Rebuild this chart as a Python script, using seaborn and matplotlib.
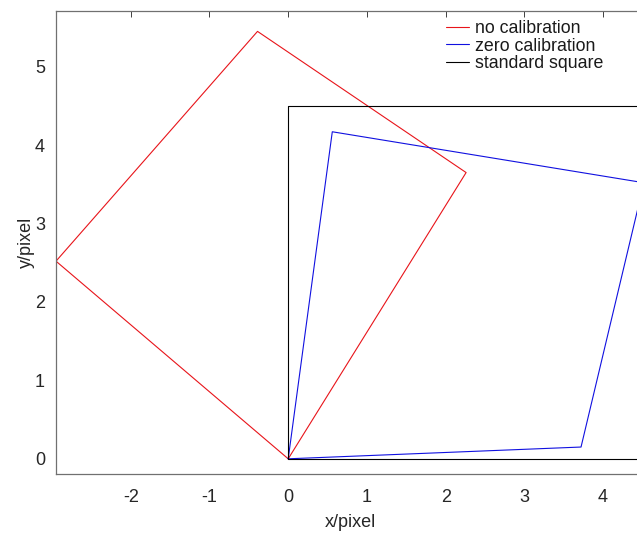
import matplotlib
matplotlib.use("Agg")
import matplotlib.pyplot as plt
import seaborn as sns
import pandas as pd

# Polygon vertices (closed)
no_cal_x = [0.0, -2.95, -0.39, 2.26, 0.0]
no_cal_y = [0.0, 2.52, 5.45, 3.65, 0.0]
zero_cal_x = [0.0, 3.72, 4.52, 0.56, 0.0]
zero_cal_y = [0.0, 0.15, 3.52, 4.17, 0.0]
square_x = [0.0, 4.5, 4.5, 0.0, 0.0]
square_y = [0.0, 0.0, 4.5, 4.5, 0.0]
series_names = ["no calibration", "zero calibration", "standard square"]
series_colors = ["#e8141a", "#1010e0", "#000000"]
x_ticks = [-2, -1, 0, 1, 2, 3, 4]
y_ticks = [0, 1, 2, 3, 4, 5]

sns.set_theme(style="white")
plt.rcParams["font.family"] = ["Liberation Sans", "DejaVu Sans"]
plt.rcParams["axes.unicode_minus"] = False

frames = []
for name, xs, ys in zip(series_names,
                        [no_cal_x, zero_cal_x, square_x],
                        [no_cal_y, zero_cal_y, square_y]):
    frames.append(pd.DataFrame({"x": xs, "y": ys, "series": name,
                                "order": range(len(xs))}))
df = pd.concat(frames, ignore_index=True)

fig = plt.figure(figsize=(6.37, 5.33), dpi=100)
ax = fig.add_axes([56 / 637, (533 - 473.7) / 533, (644 - 56) / 637, (473.7 - 11) / 533])

for name, color in zip(series_names, series_colors):
    sub = df[df["series"] == name]
    sns.lineplot(data=sub, x="x", y="y", sort=False, estimator=None,
                 color=color, linewidth=0.8, label=name, ax=ax)

ax.set_xlim(-2.95, 4.52)
ax.set_ylim(-0.19, 5.71)
ax.set_xticks(x_ticks)
ax.set_yticks(y_ticks)
ax.set_xlabel("x/pixel", fontsize=13, color="#262626", labelpad=6)
ax.set_ylabel("y/pixel", fontsize=13, color="#262626", labelpad=0)
ax.tick_params(direction="in", length=4, width=0.7, colors="#404040",
               labelsize=13, labelcolor="#262626", top=True, right=True)
ax.tick_params(axis="x", pad=11)
ax.tick_params(axis="y", pad=8)
for s in ax.spines.values():
    s.set_color("#707070")
    s.set_linewidth(0.9)

leg = ax.legend(loc="upper left", bbox_to_anchor=(446 / 637, 1 - 20 / 533),
                bbox_transform=fig.transFigure, frameon=False,
                fontsize=12.8, handlelength=1.3, handletextpad=0.35,
                labelspacing=0.03, borderpad=0, borderaxespad=0)
for t in leg.get_texts():
    t.set_color("#1a1a1a")

fig.savefig("out.png", dpi=100)
